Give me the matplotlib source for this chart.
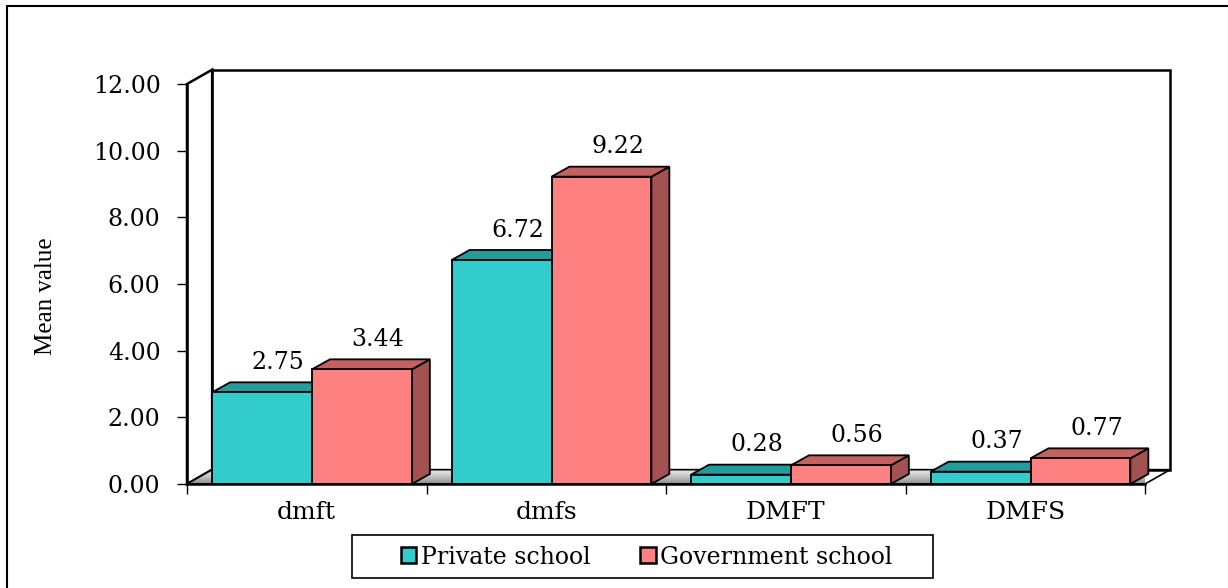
import numpy as np
import matplotlib.pyplot as plt
from matplotlib.patches import Polygon, Patch, Rectangle

categories = ['dmft', 'dmfs', 'DMFT', 'DMFS']
private_school = [2.75, 6.72, 0.28, 0.37]
government_school = [3.44, 9.22, 0.56, 0.77]
series_names = ['Private school', 'Government school']
y_ticks = [0, 2, 4, 6, 8, 10, 12]

# wide serif: the original text is a horizontally stretched Times
plt.rcParams['font.family'] = ['DejaVu Serif']

W, H = 1228, 588
fig = plt.figure(figsize=(W / 100, H / 100), dpi=100)
ax = fig.add_axes([187 / W, 1 - 484 / H, 958 / W, 400 / H])
ax.set_xlim(0, 4)
ax.set_ylim(0, 12)
ax.patch.set_visible(False)

# depth of the box and of the bars (data units)
wall_dx, wall_dy = 0.105, 0.43
bar_dx, bar_dy = 0.075, 0.30
bar_w = 0.417

# back wall, left wall, floor
ax.add_patch(Rectangle((wall_dx, wall_dy), 4, 12, facecolor='white', edgecolor='black',
                       lw=1.8, clip_on=False, zorder=0))
ax.add_patch(Polygon([(0, 0), (wall_dx, wall_dy), (wall_dx, 12 + wall_dy), (0, 12)],
                     facecolor='white', edgecolor='black', lw=1.8, clip_on=False, zorder=0))
floor = Polygon([(0, 0), (4, 0), (4 + wall_dx, wall_dy), (wall_dx, wall_dy)],
                facecolor='none', edgecolor='black', lw=1.2, clip_on=False, zorder=1)
ax.add_patch(floor)
grad = np.linspace(0, 1, 50).reshape(-1, 1)
img = ax.imshow(grad, cmap='Greys_r', vmin=-1.2, vmax=1.4, aspect='auto', origin='lower',
                extent=(0, 4 + wall_dx, 0, wall_dy), zorder=0.5, clip_on=True)
img.set_clip_path(floor)


def draw_box(x0, h, front, top, side):
    ax.add_patch(Polygon([(x0 + bar_w, 0), (x0 + bar_w + bar_dx, bar_dy),
                          (x0 + bar_w + bar_dx, h + bar_dy), (x0 + bar_w, h)],
                         facecolor=side, edgecolor='black', lw=1.3, clip_on=False, zorder=2))
    ax.add_patch(Polygon([(x0, h), (x0 + bar_w, h), (x0 + bar_w + bar_dx, h + bar_dy),
                          (x0 + bar_dx, h + bar_dy)],
                         facecolor=top, edgecolor='black', lw=1.3, clip_on=False, zorder=2))
    ax.add_patch(Rectangle((x0, 0), bar_w, h, facecolor=front, edgecolor='black',
                           lw=1.3, clip_on=False, zorder=2))
    ax.annotate(f'{h:.2f}', xy=(x0 + bar_w / 2 + bar_dx * 0.9, h + bar_dy), xytext=(0, 6),
                textcoords='offset points', ha='center', va='bottom', fontsize=17, zorder=3)


for i in range(len(categories)):
    draw_box(i + 0.105, private_school[i], '#33CCCC', '#269B9B', '#1F7F7F')
    draw_box(i + 0.105 + bar_w, government_school[i], '#FF8080', '#C46262', '#A35151')

for s in ['top', 'right']:
    ax.spines[s].set_visible(False)
ax.spines['left'].set_linewidth(1.8)
ax.spines['bottom'].set_linewidth(1.8)
ax.spines['bottom'].set_zorder(4)

ax.set_yticks(y_ticks)
ax.set_yticklabels([f'{t:.2f}' for t in y_ticks])
ax.tick_params(axis='y', length=7, width=1, pad=12, labelsize=17)
ax.set_xticks(range(len(categories) + 1))
ax.set_xticklabels([])
ax.tick_params(axis='x', which='major', length=7, width=1)
ax.set_xticks(np.arange(len(categories)) + 0.5, minor=True)
ax.set_xticklabels(categories, minor=True)
ax.tick_params(axis='x', which='minor', length=0, pad=12, labelsize=18)

ax.set_ylabel('Mean value', fontsize=18, family=['Liberation Serif'])
ax.yaxis.set_label_coords(-0.136, 0.47)

handles = [Patch(facecolor='#33CCCC', edgecolor='black', lw=1.8),
           Patch(facecolor='#FF8080', edgecolor='black', lw=1.8)]
fig.legend(handles, series_names, loc='center', bbox_to_anchor=(647 / W, 1 - 557 / H),
           ncol=2, frameon=False, fontsize=17,
           handlelength=0.65, handleheight=0.65, handletextpad=0.2, columnspacing=2.1,
           borderaxespad=0)
fig.add_artist(Rectangle((352 / W, 1 - 578 / H), 581 / W, 43 / H, transform=fig.transFigure,
                         fill=False, edgecolor='black', lw=1.2))

fig.add_artist(Rectangle((7 / W, -0.02), 1.0, 1 - 6 / H + 0.02, transform=fig.transFigure,
                         fill=False, edgecolor='black', lw=1.5))

fig.savefig('out.png', dpi=100)
